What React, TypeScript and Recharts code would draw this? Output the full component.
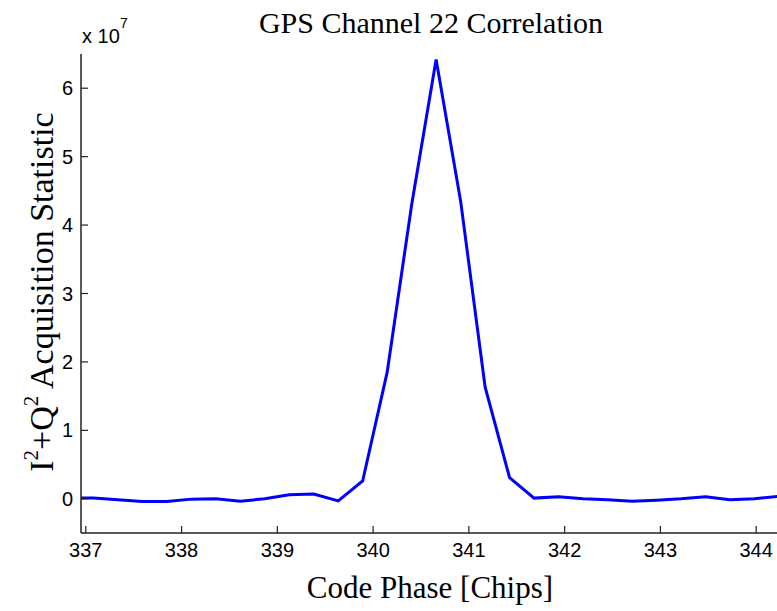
import React from 'react';
import { LineChart, Line, XAxis, YAxis } from 'recharts';

const codePhase = [336.823, 337.079, 337.335, 337.590, 337.846, 338.102, 338.357, 338.613, 338.869, 339.124, 339.380, 339.636, 339.891, 340.147, 340.403, 340.658, 340.914, 341.170, 341.425, 341.681, 341.937, 342.192, 342.448, 342.704, 342.959, 343.215, 343.471, 343.726, 343.982, 344.238, 344.493];
// I^2+Q^2 statistic in units of 1e7
const statistic = [0.01, 0.01, -0.015, -0.04, -0.04, -0.005, 0.0, -0.035, 0.0, 0.06, 0.07, -0.03, 0.26, 1.85, 4.3, 6.42, 4.35, 1.63, 0.31, 0.01, 0.03, 0.0, -0.015, -0.035, -0.02, 0.0, 0.03, -0.015, 0.0, 0.035, 0.02];
const xTicks = [337, 338, 339, 340, 341, 342, 343, 344];
const yTicks = [0, 1, 2, 3, 4, 5, 6];
const xDomain = [336.95, 344.28];
const yDomain = [-0.5, 6.5];

const data = codePhase.map((x, i) => ({ x, y: statistic[i] }));

const SANS = '"Liberation Sans", Arial, Helvetica, sans-serif';
const SERIF = '"Liberation Serif", "Times New Roman", serif';
const TICK_LEN = 7;
const AXIS_COLOR = '#222';

const BottomTick = (props: any) => {
  const { x, y, payload } = props;
  return (
    <g>
      <line x1={x} y1={y} x2={x} y2={y - TICK_LEN} stroke={AXIS_COLOR} strokeWidth={1.2} />
      <text x={x} y={y + 24} textAnchor="middle" fontFamily={SANS} fontSize={20} fill="#000">
        {payload.value}
      </text>
    </g>
  );
};

const TopTick = (props: any) => {
  const { x, y } = props;
  return <line x1={x} y1={y} x2={x} y2={y + TICK_LEN} stroke={AXIS_COLOR} strokeWidth={1.2} />;
};

const LeftTick = (props: any) => {
  const { x, y, payload } = props;
  const ax = x + 8;
  return (
    <g>
      <line x1={ax} y1={y} x2={ax + TICK_LEN} y2={y} stroke={AXIS_COLOR} strokeWidth={1.2} />
      <text x={x} y={y + 7} textAnchor="end" fontFamily={SANS} fontSize={20} fill="#000">
        {payload.value}
      </text>
    </g>
  );
};

const RightTick = (props: any) => {
  const { x, y } = props;
  return <line x1={x} y1={y} x2={x - TICK_LEN} y2={y} stroke={AXIS_COLOR} strokeWidth={1.2} />;
};

export default function App() {
  return (
    <div style={{ position: 'fixed', left: 0, top: 0, width: 777, height: 611, overflow: 'hidden', background: '#fff' }}>
      <LineChart width={800} height={611} data={data} margin={{ top: 54, right: 17, bottom: 0, left: 0 }}>
        <XAxis
          xAxisId="bottom"
          dataKey="x"
          type="number"
          domain={xDomain}
          allowDataOverflow
          ticks={xTicks}
          interval={0}
          height={78}
          tickSize={0}
          tickMargin={0}
          tick={<BottomTick />}
          axisLine={{ stroke: AXIS_COLOR, strokeWidth: 1.5 }}
          tickLine={false}
        />
        <XAxis
          xAxisId="top"
          orientation="top"
          dataKey="x"
          type="number"
          domain={xDomain}
          allowDataOverflow
          ticks={xTicks}
          interval={0}
          height={0}
          tickSize={0}
          tickMargin={0}
          tick={<TopTick />}
          axisLine={{ stroke: AXIS_COLOR, strokeWidth: 1.5 }}
          tickLine={false}
        />
        <YAxis
          yAxisId="left"
          type="number"
          domain={yDomain}
          allowDataOverflow
          ticks={yTicks}
          interval={0}
          width={81}
          tickSize={0}
          tickMargin={8}
          tick={<LeftTick />}
          axisLine={{ stroke: AXIS_COLOR, strokeWidth: 1.5 }}
          tickLine={false}
        />
        <YAxis
          yAxisId="right"
          orientation="right"
          type="number"
          domain={yDomain}
          allowDataOverflow
          ticks={yTicks}
          interval={0}
          width={0}
          tickSize={0}
          tickMargin={0}
          tick={<RightTick />}
          axisLine={{ stroke: AXIS_COLOR, strokeWidth: 1.5 }}
          tickLine={false}
        />
        <Line
          xAxisId="bottom"
          yAxisId="left"
          type="linear"
          dataKey="y"
          stroke="#0000FF"
          strokeWidth={3}
          dot={false}
          activeDot={false}
          isAnimationActive={false}
        />
      </LineChart>
      <svg width={777} height={611} style={{ position: 'absolute', left: 0, top: 0, pointerEvents: 'none' }}>
        <text x={431} y={33} textAnchor="middle" fontFamily={SERIF} fontSize={30} fill="#000">
          GPS Channel 22 Correlation
        </text>
        <text x={430} y={598} textAnchor="middle" fontFamily={SERIF} fontSize={31} fill="#000">
          Code Phase [Chips]
        </text>
        <text transform="translate(53,292) rotate(-90)" textAnchor="middle" fontFamily={SERIF} fontSize={34} fill="#000">
          I<tspan fontSize={21} dy={-15}>2</tspan><tspan dy={15}>+Q</tspan><tspan fontSize={21} dy={-15}>2</tspan><tspan dy={15}> Acquisition Statistic</tspan>
        </text>
        <text x={82} y={43} fontFamily={SANS} fontSize={20} fill="#000">
          x 10
        </text>
        <text x={120} y={28} fontFamily={SANS} fontSize={14} fill="#000">
          7
        </text>
      </svg>
    </div>
  );
}
